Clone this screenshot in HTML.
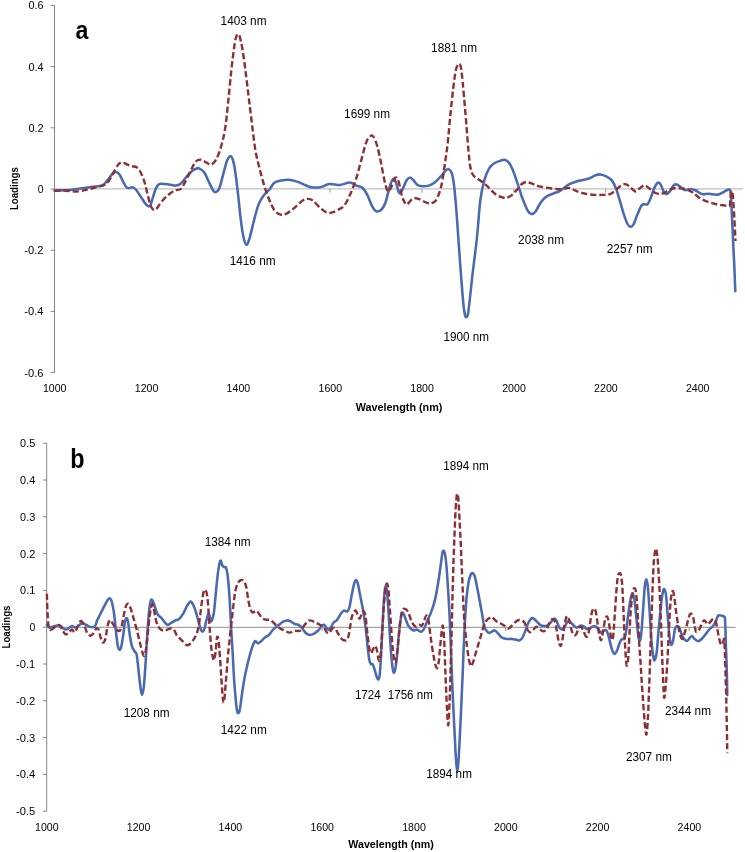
<!DOCTYPE html>
<html><head><meta charset="utf-8"><title>Loadings</title>
<style>html,body{margin:0;padding:0;background:#fff}svg{display:block}text{font-family:"Liberation Sans",sans-serif;fill:#000}.t{font-size:10.4px}.an{font-size:11.9px}.b{font-weight:bold;font-size:10.3px}.big{font-weight:bold;font-size:26.5px}</style></head><body>
<svg width="745" height="852" viewBox="0 0 745 852">
<rect width="745" height="852" fill="#fff"/>
<line x1="54.5" y1="188.9" x2="743.2" y2="188.9" stroke="#c0c0c0" stroke-width="1.3"/>
<text class="t" x="54.7" y="392.3" text-anchor="middle" textLength="23.6" lengthAdjust="spacingAndGlyphs">1000</text>
<line x1="146.4" y1="188.9" x2="146.4" y2="192.70000000000002" stroke="#9a9a9a" stroke-width="1"/>
<text class="t" x="146.6" y="392.3" text-anchor="middle" textLength="23.6" lengthAdjust="spacingAndGlyphs">1200</text>
<line x1="238.2" y1="188.9" x2="238.2" y2="192.70000000000002" stroke="#9a9a9a" stroke-width="1"/>
<text class="t" x="238.4" y="392.3" text-anchor="middle" textLength="23.6" lengthAdjust="spacingAndGlyphs">1400</text>
<line x1="330.1" y1="188.9" x2="330.1" y2="192.70000000000002" stroke="#9a9a9a" stroke-width="1"/>
<text class="t" x="330.3" y="392.3" text-anchor="middle" textLength="23.6" lengthAdjust="spacingAndGlyphs">1600</text>
<line x1="421.9" y1="188.9" x2="421.9" y2="192.70000000000002" stroke="#9a9a9a" stroke-width="1"/>
<text class="t" x="422.1" y="392.3" text-anchor="middle" textLength="23.6" lengthAdjust="spacingAndGlyphs">1800</text>
<line x1="513.8" y1="188.9" x2="513.8" y2="192.70000000000002" stroke="#9a9a9a" stroke-width="1"/>
<text class="t" x="514.0" y="392.3" text-anchor="middle" textLength="23.6" lengthAdjust="spacingAndGlyphs">2000</text>
<line x1="605.7" y1="188.9" x2="605.7" y2="192.70000000000002" stroke="#9a9a9a" stroke-width="1"/>
<text class="t" x="605.9" y="392.3" text-anchor="middle" textLength="23.6" lengthAdjust="spacingAndGlyphs">2200</text>
<line x1="697.5" y1="188.9" x2="697.5" y2="192.70000000000002" stroke="#9a9a9a" stroke-width="1"/>
<text class="t" x="697.7" y="392.3" text-anchor="middle" textLength="23.6" lengthAdjust="spacingAndGlyphs">2400</text>
<line x1="54.5" y1="5.4" x2="54.5" y2="372.6" stroke="#868686" stroke-width="1"/>
<line x1="50.7" y1="5.4" x2="54.5" y2="5.4" stroke="#868686" stroke-width="1"/>
<text class="t" x="43.5" y="9.3" text-anchor="end" textLength="15.1" lengthAdjust="spacingAndGlyphs">0.6</text>
<line x1="50.7" y1="66.6" x2="54.5" y2="66.6" stroke="#868686" stroke-width="1"/>
<text class="t" x="43.5" y="70.5" text-anchor="end" textLength="15.1" lengthAdjust="spacingAndGlyphs">0.4</text>
<line x1="50.7" y1="127.8" x2="54.5" y2="127.8" stroke="#868686" stroke-width="1"/>
<text class="t" x="43.5" y="131.7" text-anchor="end" textLength="15.1" lengthAdjust="spacingAndGlyphs">0.2</text>
<line x1="50.7" y1="189.0" x2="54.5" y2="189.0" stroke="#868686" stroke-width="1"/>
<text class="t" x="43.5" y="192.9" text-anchor="end">0</text>
<line x1="50.7" y1="250.2" x2="54.5" y2="250.2" stroke="#868686" stroke-width="1"/>
<text class="t" x="43.5" y="254.1" text-anchor="end" textLength="19.2" lengthAdjust="spacingAndGlyphs">-0.2</text>
<line x1="50.7" y1="311.4" x2="54.5" y2="311.4" stroke="#868686" stroke-width="1"/>
<text class="t" x="43.5" y="315.3" text-anchor="end" textLength="19.2" lengthAdjust="spacingAndGlyphs">-0.4</text>
<line x1="50.7" y1="372.6" x2="54.5" y2="372.6" stroke="#868686" stroke-width="1"/>
<text class="t" x="43.5" y="376.5" text-anchor="end" textLength="19.2" lengthAdjust="spacingAndGlyphs">-0.6</text>
<text class="b" x="355.8" y="410.6" textLength="86.6" lengthAdjust="spacingAndGlyphs">Wavelength (nm)</text>
<text class="b" transform="translate(17.8,188.6) rotate(-90)" text-anchor="middle" textLength="42.9" lengthAdjust="spacingAndGlyphs">Loadings</text>
<text class="big" style="font-size:26px" x="75.4" y="39.0" textLength="12.9" lengthAdjust="spacingAndGlyphs">a</text>
<path d="M54.4,190.5C57.0,190.4 65.8,190.2 70.1,189.9C74.4,189.6 76.5,189.0 80.2,188.5C83.9,188.0 88.6,187.3 92.3,186.8C96.0,186.3 99.8,186.5 102.3,185.4C104.8,184.3 105.7,182.3 107.4,180.4C109.1,178.5 111.0,175.4 112.4,174.0C113.8,172.6 114.8,171.8 116.0,171.9C117.2,172.0 118.2,172.7 119.5,174.4C120.8,176.2 122.3,180.2 123.5,182.4C124.7,184.6 125.5,186.5 126.5,187.4C127.5,188.3 128.4,188.0 129.5,188.0C130.6,188.0 131.8,187.0 133.0,187.4C134.2,187.8 135.0,188.5 136.6,190.5C138.2,192.5 140.9,197.1 142.6,199.5C144.3,201.9 145.4,203.9 146.6,205.0C147.8,206.1 148.8,206.8 149.7,206.2C150.5,205.6 150.9,203.9 151.7,201.5C152.5,199.1 153.7,194.2 154.7,191.5C155.7,188.8 156.7,186.7 157.7,185.4C158.7,184.1 158.8,184.0 160.7,183.8C162.5,183.6 166.3,184.1 168.8,184.4C171.3,184.7 173.8,185.8 175.8,185.6C177.8,185.4 179.1,184.9 180.9,183.4C182.8,181.9 184.9,178.6 186.9,176.4C188.9,174.2 191.4,171.6 192.9,170.3C194.4,169.0 195.0,169.1 196.0,168.8C197.0,168.5 197.8,167.7 199.1,168.3C200.4,168.9 202.4,170.0 204.1,172.3C205.8,174.7 207.6,179.4 209.1,182.4C210.6,185.4 212.1,188.9 213.2,190.5C214.3,192.1 214.8,192.4 215.8,192.1C216.8,191.8 218.0,191.4 219.2,188.5C220.4,185.6 221.9,179.1 223.2,174.4C224.5,169.7 225.9,163.3 227.2,160.3C228.4,157.3 229.7,156.0 230.7,156.2C231.7,156.4 232.4,157.9 233.3,161.3C234.2,164.7 235.1,170.5 235.9,176.4C236.7,182.3 237.5,189.4 238.3,196.5C239.1,203.6 239.8,212.0 240.7,218.7C241.5,225.4 242.4,232.5 243.4,236.8C244.4,241.2 245.4,244.5 246.4,244.8C247.4,245.1 248.2,242.5 249.4,238.8C250.6,235.1 251.9,228.4 253.4,222.7C254.9,217.0 256.8,209.1 258.5,204.6C260.2,200.1 261.7,198.4 263.5,195.8C265.3,193.2 267.7,191.5 269.5,189.3C271.3,187.2 272.6,184.3 274.2,182.9C275.8,181.5 276.8,181.4 279.2,180.9C281.6,180.4 285.5,179.5 288.7,179.7C291.9,179.9 295.6,181.2 298.2,182.0C300.8,182.8 301.9,183.7 304.0,184.6C306.1,185.5 308.3,186.7 310.8,187.2C313.3,187.7 316.7,187.6 318.9,187.4C321.1,187.2 322.2,186.6 323.9,186.0C325.6,185.4 327.0,184.2 328.9,184.0C330.8,183.8 333.1,184.4 335.0,184.6C336.9,184.8 337.6,185.3 340.1,185.0C342.6,184.7 347.4,182.4 350.1,182.5C352.8,182.6 354.2,184.8 356.2,185.6C358.2,186.4 360.4,186.1 362.2,187.6C364.0,189.1 365.5,191.4 367.2,194.6C368.9,197.8 370.8,203.9 372.3,206.7C373.8,209.5 374.8,210.8 376.3,211.3C377.8,211.8 379.8,211.1 381.3,209.7C382.8,208.3 384.0,206.4 385.4,202.7C386.8,199.0 388.3,191.3 389.4,187.6C390.5,183.9 391.2,182.0 392.0,180.5C392.8,179.0 393.3,178.2 394.0,178.5C394.7,178.8 395.2,180.3 396.0,182.5C396.8,184.7 397.8,189.8 398.5,191.6C399.2,193.3 399.4,193.3 400.1,193.0C400.8,192.7 401.4,191.7 402.5,189.6C403.6,187.5 405.2,182.5 406.5,180.5C407.8,178.5 408.9,177.5 410.1,177.5C411.3,177.5 412.4,179.2 413.6,180.5C414.9,181.8 416.1,184.1 417.6,185.0C419.1,185.9 420.8,186.1 422.6,186.2C424.5,186.3 426.7,186.2 428.7,185.6C430.7,185.0 432.7,184.0 434.7,182.5C436.7,181.0 438.8,178.5 440.7,176.5C442.6,174.5 444.5,171.7 445.8,170.5C447.1,169.3 447.6,168.7 448.6,169.1C449.6,169.5 450.8,170.2 451.7,172.8C452.6,175.5 453.3,179.5 454.0,185.0C454.7,190.5 455.3,198.0 456.0,206.0C456.7,214.0 457.3,223.2 458.0,233.0C458.7,242.8 459.5,254.9 460.2,264.5C460.9,274.1 461.6,283.0 462.2,290.3C462.8,297.6 463.4,304.2 463.9,308.5C464.4,312.8 464.9,314.7 465.3,316.1C465.7,317.5 465.9,317.2 466.3,316.9C466.7,316.6 467.3,317.6 467.9,314.5C468.5,311.4 469.2,304.8 469.9,298.4C470.6,292.0 471.5,283.2 472.3,276.2C473.1,269.1 473.9,263.5 474.8,256.1C475.7,248.7 476.6,241.3 477.5,232.0C478.4,222.7 479.2,209.0 480.3,200.4C481.4,191.8 482.8,185.7 484.3,180.3C485.8,174.9 487.6,171.0 489.3,168.2C491.0,165.3 492.5,164.4 494.4,163.2C496.2,161.9 498.7,161.3 500.4,160.7C502.1,160.1 503.0,159.5 504.4,159.7C505.8,159.9 507.1,160.5 508.5,162.1C509.9,163.7 511.0,165.7 512.5,169.2C514.0,172.7 515.8,178.4 517.5,183.3C519.2,188.2 520.8,193.9 522.5,198.4C524.2,202.9 526.1,207.9 527.6,210.5C529.1,213.1 530.3,213.9 531.6,214.1C532.9,214.3 534.1,213.4 535.6,211.5C537.1,209.6 538.9,204.9 540.7,202.4C542.6,199.9 544.5,197.9 546.7,196.4C548.9,194.9 551.4,194.4 553.8,193.4C556.1,192.4 558.3,191.8 560.8,190.3C563.3,188.8 566.0,185.9 568.9,184.3C571.8,182.8 574.9,181.9 578.1,181.0C581.3,180.1 585.2,179.7 588.1,178.8C591.0,177.9 593.2,176.1 595.2,175.4C597.2,174.7 598.4,174.2 600.2,174.4C602.0,174.6 604.3,175.4 606.2,176.4C608.1,177.4 610.2,178.4 611.8,180.4C613.4,182.4 614.7,185.2 616.0,188.5C617.3,191.8 618.5,196.3 619.8,200.5C621.1,204.7 622.3,209.7 623.6,213.6C624.9,217.5 626.3,221.5 627.4,223.7C628.5,225.9 629.4,226.5 630.4,226.7C631.4,226.9 632.2,226.7 633.4,224.7C634.6,222.7 636.0,217.8 637.4,214.6C638.8,211.4 640.3,207.3 641.5,205.6C642.7,203.9 643.5,204.4 644.5,204.2C645.5,204.0 646.5,205.1 647.5,204.2C648.5,203.2 649.3,201.3 650.5,198.5C651.7,195.7 653.4,190.0 654.6,187.4C655.8,184.8 656.6,183.3 657.6,182.8C658.6,182.3 659.6,183.0 660.6,184.4C661.6,185.8 662.6,189.9 663.6,191.5C664.6,193.1 665.6,194.1 666.6,194.1C667.6,194.1 668.5,192.9 669.7,191.5C670.9,190.1 672.5,186.6 673.7,185.4C674.9,184.2 675.7,184.2 676.7,184.4C677.7,184.6 678.4,185.5 679.7,186.4C681.1,187.3 682.9,189.7 684.8,190.1C686.6,190.5 689.0,189.0 690.8,189.1C692.6,189.2 693.9,189.7 695.8,190.5C697.6,191.3 699.7,193.4 701.9,194.0C704.1,194.6 706.3,193.7 708.9,193.8C711.5,193.9 714.7,195.0 717.2,194.7C719.8,194.3 722.2,192.5 724.2,191.7C726.2,190.8 728.1,189.3 729.2,189.6C730.3,189.9 730.3,189.6 730.7,193.5C731.1,197.4 731.4,205.2 731.8,212.8C732.2,220.4 732.6,230.4 733.0,239.2C733.4,248.0 733.9,256.9 734.3,265.6C734.7,274.3 735.1,286.9 735.3,291.2" fill="none" stroke="#4a69b3" stroke-width="2.55" stroke-linejoin="round" stroke-linecap="round"/>
<path d="M54.4,190.9C56.0,190.8 60.5,190.4 64.1,190.5C67.7,190.6 72.5,191.6 76.2,191.5C79.9,191.4 82.9,190.7 86.2,189.9C89.5,189.2 93.4,187.8 96.3,187.0C99.2,186.2 101.4,186.3 103.4,185.4C105.4,184.5 106.7,183.5 108.4,181.4C110.1,179.3 111.7,175.5 113.4,172.7C115.1,169.8 117.0,166.0 118.5,164.3C120.0,162.6 121.0,162.2 122.5,162.3C124.0,162.4 125.8,164.0 127.5,164.7C129.2,165.4 131.0,165.9 132.5,166.3C134.0,166.7 135.2,166.3 136.6,167.3C137.9,168.3 139.3,169.8 140.6,172.3C141.9,174.8 143.4,178.7 144.6,182.4C145.8,186.1 146.6,190.6 147.6,194.5C148.6,198.4 149.7,203.0 150.7,205.6C151.7,208.2 152.7,209.5 153.7,210.0C154.7,210.5 155.4,210.0 156.7,208.6C158.0,207.2 159.7,203.8 161.7,201.5C163.7,199.2 166.6,196.3 168.8,194.5C171.0,192.7 172.8,191.4 174.8,190.5C176.8,189.6 179.2,190.2 180.9,188.9C182.6,187.6 183.6,184.8 184.9,182.4C186.2,180.0 187.6,177.0 188.9,174.4C190.2,171.8 191.3,169.2 192.5,167.0C193.7,164.8 194.6,162.5 196.0,161.3C197.4,160.1 199.4,159.5 201.1,159.7C202.8,159.9 204.4,161.5 206.1,162.3C207.8,163.1 209.4,165.2 211.1,164.7C212.8,164.2 214.5,162.4 216.2,159.3C217.9,156.2 219.7,151.4 221.2,146.2C222.7,141.0 224.0,135.7 225.2,128.1C226.4,120.5 227.3,110.3 228.3,100.7C229.3,91.1 230.3,79.6 231.3,70.5C232.3,61.4 233.5,52.0 234.3,46.3C235.1,40.6 235.7,38.5 236.3,36.5C236.9,34.5 237.2,34.2 237.8,34.2C238.4,34.2 238.8,33.9 239.6,36.2C240.3,38.6 241.4,42.9 242.3,48.3C243.2,53.7 244.2,60.8 245.2,68.5C246.2,76.2 247.3,85.8 248.4,94.6C249.5,103.3 250.4,111.7 251.6,121.0C252.8,130.3 254.1,142.3 255.4,150.2C256.7,158.1 258.0,162.3 259.5,168.3C261.0,174.3 262.8,181.0 264.5,186.4C266.2,191.8 267.8,196.5 269.5,200.5C271.2,204.5 272.8,208.2 274.6,210.6C276.5,212.9 278.6,214.1 280.6,214.6C282.6,215.1 284.2,214.8 286.6,213.6C289.0,212.4 292.0,209.8 294.7,207.6C297.4,205.4 300.5,201.9 302.7,200.5C304.9,199.1 306.1,198.9 307.8,198.9C309.5,198.9 310.8,199.1 312.8,200.5C314.8,201.9 317.5,205.6 319.9,207.6C322.2,209.6 324.7,211.8 326.9,212.6C329.1,213.4 331.0,212.7 332.9,212.2C334.8,211.7 336.2,210.8 338.1,209.7C340.0,208.6 342.1,208.2 344.1,205.7C346.1,203.2 348.1,199.1 350.1,194.6C352.1,190.1 354.4,184.2 356.2,178.5C358.0,172.8 359.5,166.4 361.2,160.4C362.9,154.4 364.7,146.3 366.2,142.3C367.7,138.3 369.1,137.1 370.3,136.2C371.5,135.2 372.1,134.9 373.3,136.6C374.5,138.3 376.0,141.7 377.3,146.3C378.6,150.9 380.0,158.0 381.3,164.4C382.6,170.8 384.2,180.1 385.4,184.6C386.6,189.1 387.4,191.3 388.4,191.6C389.4,191.9 390.4,188.6 391.4,186.6C392.4,184.6 393.6,181.0 394.4,179.5C395.2,178.0 395.6,177.0 396.4,177.5C397.1,178.0 397.9,179.3 398.9,182.5C399.8,185.7 401.0,193.1 402.1,196.6C403.2,200.1 404.6,202.4 405.5,203.7C406.4,205.0 406.5,205.0 407.5,204.3C408.5,203.6 410.1,200.7 411.5,199.7C412.9,198.7 414.1,198.2 415.6,198.2C417.1,198.2 418.8,198.9 420.6,199.7C422.4,200.4 424.9,202.1 426.6,202.7C428.3,203.3 429.2,203.6 430.7,203.3C432.2,203.0 434.2,202.6 435.7,200.7C437.2,198.8 438.6,195.0 439.7,191.6C440.8,188.2 441.6,185.2 442.5,180.0C443.4,174.8 444.5,166.4 445.4,160.4C446.2,154.4 446.8,151.3 447.6,144.0C448.4,136.7 449.3,125.8 450.2,116.6C451.1,107.3 452.3,96.2 453.2,88.5C454.1,80.8 455.0,74.3 455.8,70.3C456.6,66.3 457.3,65.8 457.9,64.7C458.5,63.6 458.8,63.3 459.3,63.7C459.8,64.1 460.3,64.2 460.9,67.3C461.5,70.4 462.1,76.2 462.7,82.4C463.3,88.6 464.0,96.9 464.7,104.6C465.4,112.3 466.1,121.0 466.7,128.7C467.3,136.4 467.9,144.7 468.5,150.9C469.1,157.2 469.4,162.1 470.2,166.2C471.0,170.2 471.8,173.0 473.2,175.2C474.6,177.4 476.4,178.0 478.3,179.3C480.2,180.7 482.3,181.6 484.3,183.3C486.3,185.0 488.3,187.4 490.3,189.3C492.3,191.2 494.4,193.5 496.4,194.8C498.4,196.2 500.7,196.9 502.4,197.4C504.1,197.9 504.9,198.1 506.4,197.8C507.9,197.5 509.8,196.7 511.5,195.4C513.2,194.2 514.8,192.2 516.5,190.3C518.2,188.5 519.8,185.7 521.5,184.3C523.2,182.9 524.8,182.0 526.6,181.9C528.5,181.8 530.2,183.1 532.6,183.9C535.0,184.7 537.7,186.0 540.7,186.7C543.7,187.4 547.4,187.9 550.7,188.3C554.1,188.7 557.8,189.4 560.8,189.3C563.8,189.2 566.4,187.6 568.9,187.9C571.4,188.2 573.5,190.0 576.0,190.9C578.5,191.8 581.1,192.8 584.1,193.5C587.1,194.2 590.9,194.7 594.2,194.9C597.6,195.1 601.4,195.1 604.2,194.9C607.1,194.7 609.1,194.6 611.3,193.5C613.5,192.4 615.5,189.9 617.3,188.5C619.1,187.1 620.8,185.5 622.3,184.8C623.8,184.1 625.0,184.0 626.4,184.4C627.8,184.8 628.9,186.2 630.4,187.4C631.9,188.6 633.9,191.3 635.4,191.5C636.9,191.7 638.0,189.5 639.5,188.5C641.0,187.5 642.8,185.4 644.5,185.4C646.2,185.4 647.8,187.3 649.5,188.5C651.2,189.7 652.8,191.6 654.6,192.5C656.5,193.4 658.6,194.3 660.6,194.1C662.6,193.9 664.6,192.4 666.6,191.5C668.6,190.6 670.7,189.1 672.7,188.5C674.7,187.9 676.4,187.8 678.7,188.0C681.1,188.2 684.4,188.8 686.8,189.5C689.1,190.2 690.8,191.2 692.8,192.5C694.8,193.8 696.5,196.0 698.9,197.5C701.2,199.0 704.1,200.4 706.9,201.5C709.6,202.6 712.5,203.3 715.4,204.0C718.3,204.7 721.9,205.1 724.2,205.4C726.6,205.8 728.5,207.1 729.5,206.1C730.5,205.1 730.1,202.0 730.4,199.6C730.7,197.2 731.1,192.6 731.5,191.5C731.9,190.4 732.1,190.6 732.5,193.0C732.9,195.4 733.2,200.2 733.6,205.8C734.0,211.5 734.5,221.0 734.8,226.9C735.1,232.8 735.4,238.7 735.5,241.0" fill="none" stroke="#8c2e33" stroke-width="2.4" stroke-dasharray="6.2 2.9" stroke-linejoin="round"/>
<text class="an" x="220.6" y="25.0" textLength="45.9" lengthAdjust="spacingAndGlyphs">1403 nm</text>
<text class="an" x="229.7" y="264.6" textLength="45.9" lengthAdjust="spacingAndGlyphs">1416 nm</text>
<text class="an" x="344.1" y="118.4" textLength="45.9" lengthAdjust="spacingAndGlyphs">1699 nm</text>
<text class="an" x="431.1" y="51.9" textLength="45.9" lengthAdjust="spacingAndGlyphs">1881 nm</text>
<text class="an" x="443.6" y="340.9" textLength="45.5" lengthAdjust="spacingAndGlyphs">1900 nm</text>
<text class="an" x="518.1" y="244.0" textLength="45.9" lengthAdjust="spacingAndGlyphs">2038 nm</text>
<text class="an" x="606.8" y="253.2" textLength="45.9" lengthAdjust="spacingAndGlyphs">2257 nm</text>
<line x1="46.7" y1="627.3" x2="735.6" y2="627.3" stroke="#787878" stroke-width="0.85"/>
<text class="t" x="46.8" y="830.9" text-anchor="middle" textLength="23.6" lengthAdjust="spacingAndGlyphs">1000</text>
<line x1="138.4" y1="627.3" x2="138.4" y2="631.0999999999999" stroke="#9a9a9a" stroke-width="1"/>
<text class="t" x="138.6" y="830.9" text-anchor="middle" textLength="23.6" lengthAdjust="spacingAndGlyphs">1200</text>
<line x1="230.2" y1="627.3" x2="230.2" y2="631.0999999999999" stroke="#9a9a9a" stroke-width="1"/>
<text class="t" x="230.4" y="830.9" text-anchor="middle" textLength="23.6" lengthAdjust="spacingAndGlyphs">1400</text>
<line x1="322.0" y1="627.3" x2="322.0" y2="631.0999999999999" stroke="#9a9a9a" stroke-width="1"/>
<text class="t" x="322.2" y="830.9" text-anchor="middle" textLength="23.6" lengthAdjust="spacingAndGlyphs">1600</text>
<line x1="413.8" y1="627.3" x2="413.8" y2="631.0999999999999" stroke="#9a9a9a" stroke-width="1"/>
<text class="t" x="414.0" y="830.9" text-anchor="middle" textLength="23.6" lengthAdjust="spacingAndGlyphs">1800</text>
<line x1="505.6" y1="627.3" x2="505.6" y2="631.0999999999999" stroke="#9a9a9a" stroke-width="1"/>
<text class="t" x="505.8" y="830.9" text-anchor="middle" textLength="23.6" lengthAdjust="spacingAndGlyphs">2000</text>
<line x1="597.4" y1="627.3" x2="597.4" y2="631.0999999999999" stroke="#9a9a9a" stroke-width="1"/>
<text class="t" x="597.6" y="830.9" text-anchor="middle" textLength="23.6" lengthAdjust="spacingAndGlyphs">2200</text>
<line x1="689.2" y1="627.3" x2="689.2" y2="631.0999999999999" stroke="#9a9a9a" stroke-width="1"/>
<text class="t" x="689.4" y="830.9" text-anchor="middle" textLength="23.6" lengthAdjust="spacingAndGlyphs">2400</text>
<line x1="46.7" y1="443.2" x2="46.7" y2="811.2" stroke="#868686" stroke-width="1"/>
<line x1="42.900000000000006" y1="443.2" x2="46.7" y2="443.2" stroke="#868686" stroke-width="1"/>
<text class="t" x="35.2" y="447.1" text-anchor="end" textLength="15.1" lengthAdjust="spacingAndGlyphs">0.5</text>
<line x1="42.900000000000006" y1="480.0" x2="46.7" y2="480.0" stroke="#868686" stroke-width="1"/>
<text class="t" x="35.2" y="483.9" text-anchor="end" textLength="15.1" lengthAdjust="spacingAndGlyphs">0.4</text>
<line x1="42.900000000000006" y1="516.8" x2="46.7" y2="516.8" stroke="#868686" stroke-width="1"/>
<text class="t" x="35.2" y="520.7" text-anchor="end" textLength="15.1" lengthAdjust="spacingAndGlyphs">0.3</text>
<line x1="42.900000000000006" y1="553.6" x2="46.7" y2="553.6" stroke="#868686" stroke-width="1"/>
<text class="t" x="35.2" y="557.5" text-anchor="end" textLength="15.1" lengthAdjust="spacingAndGlyphs">0.2</text>
<line x1="42.900000000000006" y1="590.4" x2="46.7" y2="590.4" stroke="#868686" stroke-width="1"/>
<text class="t" x="35.2" y="594.3" text-anchor="end" textLength="15.1" lengthAdjust="spacingAndGlyphs">0.1</text>
<line x1="42.900000000000006" y1="627.2" x2="46.7" y2="627.2" stroke="#868686" stroke-width="1"/>
<text class="t" x="35.2" y="631.1" text-anchor="end">0</text>
<line x1="42.900000000000006" y1="664.0" x2="46.7" y2="664.0" stroke="#868686" stroke-width="1"/>
<text class="t" x="35.2" y="667.9" text-anchor="end" textLength="19.2" lengthAdjust="spacingAndGlyphs">-0.1</text>
<line x1="42.900000000000006" y1="700.8" x2="46.7" y2="700.8" stroke="#868686" stroke-width="1"/>
<text class="t" x="35.2" y="704.7" text-anchor="end" textLength="19.2" lengthAdjust="spacingAndGlyphs">-0.2</text>
<line x1="42.900000000000006" y1="737.6" x2="46.7" y2="737.6" stroke="#868686" stroke-width="1"/>
<text class="t" x="35.2" y="741.5" text-anchor="end" textLength="19.2" lengthAdjust="spacingAndGlyphs">-0.3</text>
<line x1="42.900000000000006" y1="774.4" x2="46.7" y2="774.4" stroke="#868686" stroke-width="1"/>
<text class="t" x="35.2" y="778.3" text-anchor="end" textLength="19.2" lengthAdjust="spacingAndGlyphs">-0.4</text>
<line x1="42.900000000000006" y1="811.2" x2="46.7" y2="811.2" stroke="#868686" stroke-width="1"/>
<text class="t" x="35.2" y="815.1" text-anchor="end" textLength="19.2" lengthAdjust="spacingAndGlyphs">-0.5</text>
<text class="b" x="348.3" y="848.3" textLength="85.6" lengthAdjust="spacingAndGlyphs">Wavelength (nm)</text>
<text class="b" transform="translate(9.9,627.0) rotate(-90)" text-anchor="middle" textLength="42.9" lengthAdjust="spacingAndGlyphs">Loadings</text>
<text class="big" style="font-size:27.5px" x="70.2" y="468.3" textLength="14.3" lengthAdjust="spacingAndGlyphs">b</text>
<path d="M46.9,624.8C47.3,625.3 48.0,627.4 49.4,627.6C50.8,627.8 53.3,626.5 55.0,626.1C56.7,625.7 58.3,625.0 59.7,625.4C61.1,625.8 62.4,627.8 63.5,628.5C64.6,629.2 65.2,629.7 66.3,629.5C67.4,629.3 69.0,627.8 70.0,627.2C71.0,626.6 71.3,626.0 72.3,626.1C73.2,626.2 74.5,627.8 75.7,627.6C76.9,627.4 78.3,625.5 79.4,624.8C80.5,624.1 81.2,623.5 82.3,623.5C83.4,623.5 84.8,624.3 86.0,624.8C87.2,625.3 88.4,626.4 89.8,626.7C91.2,627.0 93.2,627.8 94.5,626.7C95.8,625.6 96.4,622.1 97.3,620.1C98.2,618.1 98.8,617.0 100.1,614.5C101.3,612.0 103.5,607.6 104.8,605.1C106.1,602.6 107.2,600.5 108.0,599.4C108.8,598.3 109.3,598.2 109.9,598.5C110.5,598.8 111.0,598.6 111.7,601.3C112.4,604.0 113.5,609.2 114.2,614.5C114.9,619.8 115.5,627.9 116.1,633.2C116.7,638.5 117.4,643.6 117.9,646.4C118.4,649.2 118.7,649.6 119.2,649.8C119.7,649.9 120.4,649.8 121.1,647.3C121.8,644.8 122.6,639.3 123.2,635.1C123.8,630.9 124.4,624.8 124.9,622.0C125.4,619.2 125.9,618.4 126.4,618.2C126.9,618.0 127.3,618.2 127.9,621.0C128.5,623.8 129.1,630.9 129.8,635.1C130.5,639.3 131.2,643.6 132.0,646.4C132.8,649.1 134.0,650.2 134.8,651.6C135.6,653.0 136.1,651.6 136.7,654.8C137.3,658.0 138.0,665.3 138.6,670.8C139.2,676.3 139.9,683.7 140.5,687.7C141.1,691.7 141.5,694.8 142.0,694.8C142.5,694.8 143.2,692.0 143.7,687.7C144.2,683.4 144.6,677.0 145.2,668.9C145.8,660.8 146.4,648.3 147.0,638.9C147.6,629.5 148.3,618.9 148.9,612.6C149.5,606.3 150.1,603.4 150.6,601.3C151.1,599.2 151.5,599.4 152.1,600.0C152.7,600.6 153.4,602.6 154.3,605.0C155.2,607.4 156.3,612.1 157.5,614.2C158.7,616.4 160.1,616.5 161.3,617.9C162.6,619.3 163.9,621.4 165.0,622.6C166.1,623.8 166.7,624.9 167.8,624.9C168.9,624.9 170.3,623.4 171.6,622.6C172.9,621.9 174.2,621.0 175.4,620.4C176.7,619.8 177.8,619.9 179.1,618.9C180.3,617.9 181.7,616.2 182.9,614.2C184.2,612.2 185.5,608.7 186.6,606.7C187.7,604.7 188.7,603.1 189.4,602.3C190.1,601.4 190.3,601.2 190.9,601.6C191.5,602.0 192.3,603.0 193.2,604.8C194.0,606.6 195.1,609.3 196.0,612.3C196.9,615.3 198.0,619.8 198.8,622.6C199.6,625.4 200.1,627.7 200.7,629.2C201.3,630.7 202.0,631.8 202.6,631.6C203.2,631.5 203.9,630.1 204.5,628.3C205.1,626.5 205.7,623.1 206.3,620.8C206.9,618.4 207.7,615.2 208.2,614.2C208.7,613.2 208.9,613.8 209.3,614.7C209.7,615.6 210.1,618.8 210.5,619.8C210.9,620.8 211.0,621.9 211.6,620.8C212.2,619.7 213.1,617.6 213.8,613.2C214.5,608.8 215.1,600.8 215.7,594.5C216.3,588.2 217.0,580.9 217.6,575.7C218.2,570.5 219.0,566.0 219.5,563.5C220.0,561.0 220.3,560.4 220.8,560.7C221.3,561.0 221.7,564.3 222.3,565.4C222.9,566.5 223.6,566.8 224.2,567.2C224.8,567.6 225.5,566.1 226.1,567.8C226.7,569.5 227.3,571.9 227.9,577.6C228.5,583.3 229.3,593.7 229.8,602.0C230.3,610.3 230.7,619.3 231.1,627.3C231.5,635.3 232.0,641.0 232.5,650.0C233.0,659.0 233.6,672.2 234.2,681.0C234.8,689.8 235.5,697.4 236.0,702.6C236.5,707.8 236.9,710.3 237.3,712.0C237.7,713.7 238.1,713.3 238.5,713.0C238.9,712.7 239.3,712.8 239.8,710.1C240.3,707.4 240.9,702.0 241.6,697.0C242.3,692.0 243.3,684.9 244.2,680.0C245.0,675.1 245.8,671.6 246.7,667.7C247.6,663.8 248.6,659.9 249.5,656.4C250.4,652.9 251.4,649.5 252.3,647.0C253.2,644.5 254.1,642.2 254.8,641.4C255.5,640.6 256.2,642.0 256.7,642.3C257.2,642.6 257.3,643.4 258.0,643.3C258.7,643.1 259.7,642.3 260.8,641.4C261.9,640.5 263.2,638.8 264.6,637.7C266.0,636.6 267.4,636.5 268.9,635.0C270.4,633.5 272.2,630.5 273.8,628.9C275.4,627.2 276.9,626.3 278.5,625.1C280.1,623.9 281.7,622.5 283.1,621.7C284.5,620.9 285.6,620.5 286.9,620.4C288.2,620.3 289.4,620.8 290.7,621.4C291.9,622.0 293.1,623.2 294.4,623.8C295.6,624.3 296.9,624.0 298.2,624.7C299.4,625.4 300.6,626.5 301.9,627.9C303.1,629.3 304.4,631.8 305.7,633.0C306.9,634.2 308.0,634.8 309.4,634.9C310.8,635.0 312.7,634.3 314.1,633.6C315.5,632.9 316.6,632.0 317.9,630.8C319.1,629.5 320.6,627.1 321.6,626.1C322.6,625.1 323.1,624.4 323.9,624.7C324.7,625.0 325.5,627.0 326.3,627.9C327.1,628.8 327.8,629.9 328.6,629.8C329.4,629.6 330.1,628.2 331.0,627.0C331.9,625.8 332.9,623.4 333.8,622.3C334.8,621.2 335.9,621.2 336.7,620.4C337.5,619.6 337.7,618.9 338.5,617.6C339.3,616.4 340.4,614.1 341.4,612.9C342.3,611.7 343.3,610.7 344.2,610.5C345.1,610.3 346.2,612.0 347.0,611.6C347.8,611.2 348.4,611.0 349.2,608.2C350.0,605.5 350.9,599.2 351.7,595.1C352.5,591.0 353.4,586.3 354.1,583.8C354.8,581.3 355.4,580.0 356.0,580.0C356.6,580.0 357.2,581.3 357.9,583.8C358.6,586.3 359.2,590.7 360.1,595.1C361.0,599.5 362.1,604.5 363.0,610.1C363.9,615.7 365.0,622.6 365.8,628.9C366.6,635.2 367.1,642.4 367.7,647.7C368.3,653.0 368.9,658.1 369.5,660.8C370.1,663.5 370.4,663.4 371.0,664.0C371.6,664.6 372.3,663.6 372.9,664.6C373.5,665.6 374.2,668.2 374.8,670.2C375.4,672.2 376.1,675.3 376.7,676.8C377.3,678.3 378.0,679.9 378.5,679.4C379.0,678.9 379.4,678.1 379.8,674.0C380.2,669.9 380.7,662.7 381.1,655.0C381.5,647.3 382.0,636.7 382.4,628.0C382.8,619.3 383.3,609.3 383.7,603.0C384.1,596.7 384.5,592.8 384.8,590.0C385.1,587.2 385.3,586.2 385.6,586.3C385.9,586.4 386.4,586.9 386.8,590.5C387.2,594.1 387.8,600.8 388.3,608.0C388.8,615.2 389.3,626.2 389.8,634.0C390.3,641.8 390.7,649.3 391.2,655.0C391.7,660.7 392.2,665.0 392.6,668.0C393.0,671.0 393.4,672.6 393.8,672.7C394.2,672.9 394.7,672.0 395.3,668.9C395.9,665.8 396.6,659.8 397.2,653.9C397.8,648.0 398.4,639.2 399.0,633.2C399.6,627.2 400.3,621.6 400.9,618.2C401.5,614.8 402.1,612.8 402.8,612.6C403.5,612.5 404.1,615.3 405.0,617.3C405.9,619.3 406.8,622.8 407.9,624.8C409.0,626.8 410.5,628.6 411.6,629.5C412.7,630.4 413.5,630.4 414.4,630.4C415.2,630.4 415.9,629.4 416.7,629.5C417.5,629.6 418.3,630.6 419.1,631.0C419.9,631.4 420.8,632.1 421.6,631.7C422.5,631.3 423.2,630.4 424.2,628.5C425.2,626.6 426.4,622.9 427.6,620.1C428.8,617.3 430.1,615.1 431.3,611.6C432.6,608.1 434.0,603.9 435.1,599.4C436.2,594.9 437.0,589.7 437.9,584.4C438.8,579.1 439.7,572.6 440.4,567.5C441.1,562.4 441.8,556.4 442.3,553.6C442.8,550.8 443.1,550.6 443.6,550.8C444.1,551.0 444.6,551.8 445.1,554.6C445.6,557.4 446.1,561.8 446.6,567.7C447.1,573.6 447.6,582.6 448.1,590.0C448.6,597.4 449.0,603.7 449.4,612.0C449.8,620.3 450.2,630.0 450.6,640.0C451.0,650.0 451.4,661.2 451.8,672.0C452.2,682.8 452.7,694.8 453.2,705.0C453.7,715.2 454.2,724.2 454.6,733.0C455.1,741.8 455.4,751.5 455.9,758.0C456.3,764.5 456.8,772.0 457.3,772.0C457.8,772.0 458.2,764.5 458.7,758.0C459.1,751.5 459.6,741.8 460.0,733.0C460.4,724.2 460.9,714.2 461.3,705.0C461.7,695.8 462.1,687.2 462.5,678.0C462.9,668.8 463.2,659.3 463.6,650.0C464.0,640.7 464.4,630.7 464.9,622.0C465.4,613.3 466.0,604.4 466.6,597.6C467.2,590.9 468.0,585.4 468.7,581.5C469.4,577.6 470.2,575.9 470.8,574.5C471.4,573.1 471.8,572.7 472.5,573.0C473.2,573.3 474.0,574.0 474.8,576.5C475.6,579.0 476.4,583.8 477.3,588.2C478.2,592.6 479.3,598.6 480.1,603.0C480.9,607.4 481.5,610.7 482.2,614.5C482.9,618.3 483.4,623.0 484.1,625.7C484.8,628.5 485.7,629.8 486.6,631.0C487.5,632.2 488.5,632.8 489.4,632.9C490.3,633.0 491.3,631.8 492.2,631.4C493.1,631.0 493.7,630.1 494.6,630.4C495.5,630.7 496.6,632.0 497.8,633.2C499.0,634.4 500.2,636.5 501.6,637.4C503.0,638.3 504.6,638.6 506.3,638.9C508.0,639.1 510.2,638.8 511.9,638.9C513.6,639.0 515.4,639.5 516.6,639.8C517.9,640.0 518.5,640.7 519.4,640.4C520.3,640.1 521.3,639.4 522.3,637.9C523.2,636.4 524.2,633.8 525.1,631.4C526.0,629.0 527.0,625.8 527.9,623.8C528.8,621.8 529.8,620.1 530.7,619.2C531.6,618.3 532.2,617.9 533.1,618.2C534.0,618.5 535.1,619.9 536.3,621.0C537.5,622.1 538.9,623.9 540.1,624.8C541.4,625.6 542.5,626.0 543.8,626.1C545.0,626.2 546.4,626.1 547.6,625.4C548.8,624.7 549.9,623.1 551.0,622.0C552.1,620.9 553.3,618.8 554.2,618.6C555.1,618.4 555.8,619.6 556.6,621.0C557.4,622.4 558.0,625.3 558.9,626.7C559.8,628.1 560.8,629.5 561.7,629.5C562.6,629.5 563.6,628.0 564.5,626.7C565.4,625.5 566.4,622.9 567.3,622.0C568.2,621.1 568.8,621.1 569.8,621.6C570.8,622.1 571.9,623.8 573.0,624.8C574.1,625.8 575.5,627.5 576.7,627.6C578.0,627.8 579.4,626.0 580.5,625.7C581.6,625.5 582.2,625.5 583.3,626.1C584.4,626.7 585.9,628.7 587.0,629.1C588.1,629.5 588.9,628.9 589.9,628.5C590.9,628.1 591.8,626.8 592.8,626.5C593.8,626.2 594.6,626.0 595.6,626.5C596.6,627.0 597.5,628.4 598.5,629.5C599.5,630.6 600.4,632.7 601.3,632.9C602.2,633.1 603.2,630.9 604.1,630.5C605.0,630.1 605.7,629.4 606.5,630.5C607.3,631.6 607.9,634.0 608.8,637.0C609.6,640.0 610.7,645.5 611.6,648.3C612.5,651.1 613.5,653.6 614.4,653.9C615.3,654.2 616.3,652.1 617.2,650.2C618.1,648.3 618.9,644.6 619.7,642.7C620.5,640.8 621.1,639.5 621.9,638.9C622.6,638.3 623.5,640.1 624.2,638.9C624.9,637.6 625.4,635.8 626.1,631.4C626.8,627.0 627.7,618.2 628.5,612.6C629.3,607.0 630.2,600.7 630.9,597.6C631.6,594.5 632.2,593.2 632.8,593.8C633.4,594.4 634.1,597.0 634.7,601.4C635.3,605.8 636.0,614.2 636.6,620.1C637.2,626.0 638.0,633.5 638.5,637.0C639.0,640.5 639.3,641.4 639.8,640.8C640.3,640.2 640.8,638.3 641.3,633.3C641.8,628.3 642.4,618.6 643.0,610.8C643.6,603.0 644.2,591.6 644.8,586.3C645.3,581.0 645.8,579.2 646.3,579.2C646.8,579.2 647.2,580.7 647.8,586.3C648.4,591.9 649.1,603.2 649.7,612.6C650.3,622.0 651.0,635.2 651.6,642.7C652.2,650.2 653.0,654.8 653.5,657.7C654.0,660.6 654.3,660.9 654.8,660.0C655.3,659.1 656.1,656.9 656.7,652.1C657.3,647.3 657.8,639.2 658.5,631.4C659.2,623.6 660.3,611.7 661.0,605.1C661.7,598.5 662.3,594.6 662.9,592.0C663.5,589.4 663.9,588.6 664.4,589.2C664.9,589.8 665.5,590.9 666.1,595.7C666.7,600.6 667.3,611.1 667.9,618.3C668.5,625.5 669.2,634.5 669.8,638.9C670.4,643.3 670.8,644.6 671.3,644.9C671.8,645.2 672.4,643.4 673.0,640.8C673.6,638.2 674.3,632.0 674.9,629.5C675.5,627.0 676.1,626.1 676.8,625.8C677.5,625.5 678.3,626.1 679.2,627.7C680.1,629.3 681.1,633.2 682.0,635.2C682.9,637.2 683.9,639.0 684.8,639.9C685.7,640.8 686.5,641.0 687.3,640.7C688.1,640.4 688.9,638.7 689.7,637.9C690.5,637.1 691.2,635.9 692.0,636.0C692.8,636.1 693.4,637.9 694.4,638.8C695.4,639.7 696.9,641.2 698.1,641.2C699.4,641.2 700.6,640.0 701.9,638.8C703.2,637.6 704.5,635.7 705.7,634.1C707.0,632.5 708.1,630.8 709.4,629.4C710.6,628.0 712.2,626.9 713.2,625.7C714.2,624.5 714.9,623.6 715.5,622.4C716.1,621.1 716.4,619.4 716.9,618.2C717.4,617.1 717.8,616.0 718.3,615.5C718.8,615.0 719.1,615.2 719.7,615.2C720.3,615.2 721.4,615.6 722.1,615.8C722.8,616.0 723.5,616.1 724.0,616.5C724.5,616.9 724.7,616.4 724.9,618.2C725.1,620.1 725.2,623.7 725.4,627.6C725.5,631.5 725.6,636.9 725.8,641.6C725.9,646.3 726.1,650.6 726.3,655.7C726.5,660.8 726.6,665.5 726.8,672.0C727.0,678.5 727.2,691.2 727.3,695.0" fill="none" stroke="#4a69b3" stroke-width="2.55" stroke-linejoin="round" stroke-linecap="round"/>
<path d="M46.9,593.8C47.0,596.9 47.2,607.3 47.5,612.6C47.8,617.9 48.0,622.8 48.5,625.7C49.0,628.6 49.5,629.4 50.3,629.9C51.1,630.4 52.0,629.2 53.1,628.5C54.2,627.8 55.8,625.9 56.9,625.4C58.0,624.9 58.8,624.6 59.7,625.4C60.6,626.2 61.5,628.9 62.5,630.4C63.5,631.9 64.5,633.7 65.4,634.2C66.4,634.7 67.1,634.0 68.2,633.2C69.3,632.4 70.8,629.6 71.9,629.5C73.0,629.4 73.8,632.8 74.7,632.3C75.7,631.8 76.6,628.6 77.6,626.7C78.6,624.8 79.8,621.3 80.9,621.0C82.0,620.7 83.1,622.9 84.1,624.8C85.1,626.7 85.9,630.5 86.9,632.3C87.9,634.1 89.2,635.6 90.3,635.7C91.4,635.9 92.5,634.4 93.5,633.2C94.5,632.0 95.5,629.1 96.3,628.5C97.1,627.9 97.9,628.1 98.6,629.5C99.3,630.9 99.8,634.8 100.5,637.0C101.2,639.2 102.1,642.3 102.9,642.6C103.7,642.9 104.6,641.7 105.4,638.9C106.2,636.1 106.8,628.8 107.6,625.7C108.3,622.6 109.1,620.6 109.9,620.1C110.7,619.6 111.4,621.6 112.3,622.9C113.2,624.1 114.1,626.2 115.1,627.6C116.1,629.0 117.5,630.9 118.5,631.0C119.5,631.1 120.2,631.0 121.1,628.5C121.9,626.0 122.8,620.0 123.6,616.3C124.4,612.5 125.3,608.1 126.0,606.0C126.7,603.9 127.2,603.6 127.9,603.8C128.6,603.9 129.2,604.8 130.1,606.9C130.9,609.0 132.0,612.8 133.0,616.3C134.0,619.8 135.1,623.5 136.2,627.6C137.3,631.7 138.5,636.7 139.5,640.8C140.5,644.9 141.5,649.5 142.3,652.0C143.1,654.5 143.6,656.4 144.2,655.8C144.8,655.2 145.5,652.4 146.1,648.3C146.7,644.2 147.4,637.0 148.0,631.4C148.6,625.8 149.3,618.6 149.9,614.5C150.5,610.4 151.0,608.2 151.4,606.5C151.8,604.8 152.2,603.7 152.6,604.3C153.0,604.9 153.3,607.0 154.0,610.0C154.7,613.0 155.5,619.4 156.6,622.6C157.7,625.8 158.9,627.9 160.3,629.2C161.7,630.5 163.4,630.6 165.0,630.5C166.6,630.4 168.3,628.8 169.7,628.6C171.1,628.4 172.2,628.0 173.5,629.2C174.8,630.4 175.6,633.8 177.2,635.8C178.8,637.8 181.2,639.8 182.9,641.4C184.6,643.0 186.0,645.2 187.6,645.2C189.2,645.2 190.8,643.3 192.3,641.4C193.8,639.5 195.4,637.0 196.6,633.9C197.8,630.8 198.4,627.6 199.2,622.6C200.0,617.6 200.9,608.8 201.6,603.8C202.3,598.8 202.9,594.9 203.5,592.6C204.1,590.3 204.8,589.2 205.4,589.8C206.0,590.4 206.7,592.1 207.3,596.3C207.9,600.5 208.3,608.8 208.8,615.1C209.3,621.4 209.6,628.0 210.1,633.9C210.6,639.8 211.1,646.7 211.6,650.8C212.1,654.9 212.7,656.8 213.1,658.3C213.5,659.8 213.8,661.0 214.2,659.8C214.6,658.5 215.3,654.2 215.7,650.8C216.1,647.4 216.4,641.9 216.7,639.5C217.0,637.1 217.3,636.4 217.6,636.7C217.9,637.0 218.3,638.1 218.7,641.4C219.1,644.7 219.4,650.1 219.9,656.4C220.4,662.7 220.9,672.2 221.4,679.0C221.9,685.8 222.3,693.1 222.7,697.0C223.0,700.9 223.2,702.6 223.5,702.6C223.8,702.6 224.2,700.9 224.6,697.0C225.0,693.1 225.5,685.8 226.1,679.0C226.7,672.2 227.3,663.3 227.9,656.4C228.5,649.5 229.2,643.6 229.8,637.7C230.4,631.8 231.1,626.4 231.7,620.8C232.3,615.1 233.0,608.8 233.6,603.8C234.2,598.8 234.7,594.1 235.4,590.7C236.1,587.3 237.0,585.0 237.9,583.2C238.8,581.4 240.1,580.3 241.1,580.0C242.1,579.7 243.1,580.1 243.9,581.3C244.8,582.4 245.5,584.1 246.2,586.9C246.9,589.7 247.4,594.8 248.0,598.2C248.6,601.7 249.2,605.2 249.9,607.6C250.6,610.0 251.4,611.7 252.3,612.3C253.2,612.9 254.4,611.6 255.2,611.4C256.0,611.2 256.2,610.4 257.0,611.0C257.8,611.6 258.9,613.9 259.9,615.1C260.8,616.4 261.6,617.7 262.7,618.5C263.8,619.3 265.2,619.6 266.4,619.8C267.6,620.0 268.8,619.3 270.0,619.8C271.2,620.3 272.2,621.6 273.8,623.0C275.4,624.4 277.5,626.6 279.4,627.9C281.3,629.2 283.3,630.0 285.0,630.8C286.7,631.6 288.1,632.6 289.7,632.6C291.3,632.6 292.7,631.1 294.4,630.8C296.1,630.5 298.4,631.6 300.0,630.8C301.6,630.0 302.5,627.7 303.8,626.1C305.1,624.5 306.5,622.4 307.6,621.4C308.7,620.4 309.1,620.2 310.4,620.4C311.6,620.5 313.5,621.6 315.1,622.3C316.7,623.0 318.4,623.9 319.8,624.7C321.2,625.5 322.4,625.8 323.5,627.0C324.6,628.2 325.4,630.7 326.3,631.7C327.2,632.7 328.2,633.5 329.2,633.0C330.1,632.5 331.1,629.8 332.0,628.9C332.9,628.0 333.9,627.3 334.8,627.9C335.7,628.5 336.5,630.8 337.6,632.6C338.7,634.4 340.1,637.3 341.4,638.6C342.6,639.9 344.0,640.5 345.1,640.5C346.2,640.5 347.1,640.2 347.9,638.3C348.7,636.4 349.2,632.3 349.8,628.9C350.4,625.5 351.0,620.5 351.7,617.6C352.4,614.7 353.4,612.7 354.1,611.6C354.8,610.5 355.3,610.1 356.0,611.0C356.7,611.9 357.7,615.5 358.3,616.7C358.9,618.0 359.2,619.0 359.8,618.5C360.4,618.0 361.0,615.0 361.6,613.8C362.2,612.5 362.9,610.7 363.5,611.0C364.1,611.3 364.8,612.1 365.4,615.7C366.0,619.3 366.7,627.3 367.3,632.6C367.9,637.9 368.6,644.2 369.2,647.7C369.8,651.2 370.3,653.1 371.0,653.3C371.7,653.4 372.6,649.9 373.3,648.6C374.0,647.4 374.6,645.5 375.2,645.8C375.8,646.1 376.4,648.0 377.0,650.5C377.6,653.0 378.3,660.0 378.9,660.8C379.5,661.5 380.1,659.8 380.6,655.0C381.2,650.2 381.6,640.3 382.2,632.0C382.8,623.7 383.3,612.3 383.9,605.0C384.5,597.7 385.1,591.6 385.6,588.0C386.1,584.4 386.5,583.4 387.0,583.6C387.5,583.8 387.9,584.5 388.4,589.0C388.9,593.5 389.4,602.4 390.0,610.7C390.6,619.0 391.3,631.1 391.9,638.9C392.5,646.7 393.2,653.7 393.8,657.7C394.4,661.7 394.8,663.2 395.3,662.9C395.8,662.6 396.3,659.8 396.8,655.8C397.3,651.8 397.9,644.8 398.5,638.9C399.1,633.0 399.8,624.8 400.4,620.1C401.0,615.4 401.5,612.6 402.2,610.7C402.9,608.8 403.8,608.6 404.7,608.8C405.6,608.9 406.9,609.9 407.9,611.6C408.9,613.3 409.8,617.0 410.7,619.2C411.6,621.4 412.6,623.5 413.5,624.8C414.4,626.0 415.4,626.7 416.3,626.7C417.2,626.7 418.2,625.0 419.1,624.8C420.0,624.6 421.0,626.5 421.9,625.7C422.8,624.9 423.4,621.8 424.2,620.1C425.0,618.4 425.9,615.4 426.6,615.4C427.3,615.4 427.9,616.8 428.5,620.1C429.1,623.4 429.6,629.5 430.4,635.1C431.2,640.7 432.3,648.9 433.2,653.9C434.1,658.9 434.8,662.9 435.5,665.2C436.2,667.6 436.8,668.6 437.3,668.0C437.9,667.4 438.2,665.9 438.8,661.4C439.4,656.9 440.1,646.4 440.7,640.8C441.3,635.2 441.8,630.0 442.2,627.6C442.6,625.2 442.7,624.8 443.0,626.7C443.3,628.6 443.7,631.2 444.1,638.9C444.5,646.6 445.0,662.1 445.4,672.7C445.8,683.3 446.3,694.8 446.7,702.7C447.1,710.6 447.4,716.3 447.7,720.0C448.0,723.7 448.1,726.1 448.3,725.1C448.5,724.1 448.8,721.5 449.1,714.0C449.4,706.5 449.9,692.3 450.3,680.0C450.7,667.7 451.0,653.3 451.4,640.0C451.8,626.7 452.1,612.5 452.4,600.0C452.7,587.5 453.1,575.0 453.4,565.0C453.7,555.0 454.0,547.8 454.3,540.0C454.6,532.2 454.9,524.5 455.2,518.0C455.5,511.5 455.8,505.1 456.2,501.0C456.6,496.9 456.9,493.5 457.3,493.5C457.7,493.5 458.1,496.4 458.5,501.0C458.9,505.6 459.2,513.1 459.6,520.8C460.0,528.5 460.5,537.9 460.9,547.0C461.3,556.1 461.7,566.4 462.1,575.2C462.5,584.0 462.8,592.5 463.2,600.0C463.6,607.5 463.8,613.5 464.3,620.0C464.8,626.5 465.5,633.2 466.1,638.9C466.7,644.5 467.4,649.8 468.0,653.9C468.6,658.0 469.2,661.3 469.8,663.3C470.4,665.3 470.8,666.3 471.3,666.1C471.8,665.9 472.3,664.3 473.0,662.3C473.7,660.3 474.6,656.9 475.5,653.9C476.4,650.9 477.4,647.6 478.3,644.5C479.2,641.4 480.2,638.2 481.1,635.1C482.0,632.0 483.0,628.1 483.9,625.7C484.8,623.3 485.6,621.8 486.5,620.5C487.4,619.2 488.6,618.5 489.5,618.0C490.4,617.5 491.1,616.8 492.2,617.3C493.3,617.8 494.6,620.0 496.0,621.0C497.4,622.0 499.3,622.7 500.7,623.5C502.1,624.3 503.1,624.9 504.4,625.7C505.6,626.5 506.9,628.5 508.2,628.5C509.4,628.5 510.5,627.0 511.9,625.7C513.3,624.5 515.2,621.9 516.6,621.0C518.0,620.1 519.1,619.9 520.4,620.1C521.6,620.3 523.0,620.6 524.1,622.0C525.2,623.4 526.0,626.8 526.9,628.5C527.8,630.2 528.7,632.1 529.8,632.3C530.9,632.5 532.4,630.4 533.5,629.5C534.6,628.6 535.2,626.7 536.3,626.7C537.4,626.7 538.9,628.7 540.1,629.5C541.4,630.3 542.7,631.6 543.8,631.4C544.9,631.2 545.8,629.9 546.7,628.5C547.7,627.1 548.6,624.4 549.5,622.9C550.4,621.4 551.4,619.5 552.3,619.2C553.2,618.9 554.0,619.3 554.7,621.0C555.4,622.7 556.0,626.2 556.6,629.5C557.2,632.8 557.9,638.0 558.5,640.8C559.1,643.5 559.8,646.0 560.4,646.0C561.0,646.0 561.7,643.9 562.3,640.8C562.9,637.7 563.5,631.4 564.1,627.6C564.7,623.8 565.4,620.1 566.0,618.2C566.6,616.3 566.9,615.8 567.5,616.3C568.1,616.8 568.7,618.6 569.4,621.0C570.1,623.4 570.9,628.0 571.6,630.4C572.4,632.8 573.1,634.5 573.9,635.1C574.7,635.7 575.4,635.3 576.2,634.2C577.0,633.1 577.8,629.8 578.6,628.5C579.4,627.2 580.2,626.4 581.0,626.7C581.8,627.0 582.4,628.8 583.3,630.4C584.1,632.0 585.2,636.1 586.1,636.6C587.0,637.1 587.8,636.0 588.5,633.2C589.2,630.5 589.9,623.8 590.5,620.1C591.1,616.4 591.7,612.7 592.3,610.8C592.9,608.9 593.5,608.2 594.1,608.5C594.7,608.8 595.4,609.7 596.0,612.6C596.6,615.5 597.3,621.7 597.9,625.8C598.5,629.9 599.2,634.6 599.8,637.0C600.4,639.4 600.8,640.8 601.3,639.9C601.8,639.0 602.5,634.7 603.1,631.4C603.7,628.1 604.4,622.6 605.0,620.1C605.6,617.6 606.3,616.1 606.9,616.4C607.5,616.7 608.2,618.9 608.8,622.0C609.4,625.1 610.1,632.2 610.7,635.2C611.3,638.2 611.7,640.2 612.2,639.9C612.7,639.6 613.1,637.5 613.5,633.3C613.9,629.1 614.3,621.4 614.8,614.5C615.3,607.6 615.8,598.3 616.3,592.0C616.8,585.7 617.3,580.0 617.8,576.9C618.3,573.8 618.8,573.5 619.3,573.2C619.8,572.9 620.5,572.9 621.0,575.1C621.5,577.3 621.9,580.7 622.3,586.3C622.7,591.9 623.0,600.1 623.4,608.9C623.8,617.7 624.2,630.1 624.7,638.9C625.2,647.7 625.7,657.0 626.1,661.5C626.5,666.0 626.7,665.9 627.0,665.6C627.3,665.3 627.7,664.7 628.1,659.6C628.5,654.5 628.9,643.7 629.4,635.2C629.9,626.8 630.3,616.1 630.9,608.9C631.5,601.7 632.2,595.5 632.8,592.0C633.4,588.5 634.1,587.9 634.7,588.2C635.3,588.5 635.7,589.4 636.2,593.8C636.7,598.2 637.2,606.4 637.7,614.5C638.2,622.6 638.7,633.8 639.2,642.7C639.7,651.6 640.4,659.6 640.9,668.0C641.4,676.4 641.9,684.3 642.5,693.0C643.1,701.7 643.9,713.1 644.5,720.0C645.1,726.9 645.8,734.9 646.4,734.6C647.0,734.3 647.5,725.2 647.9,718.0C648.3,710.8 648.6,701.1 649.0,691.4C649.4,681.7 649.7,670.6 650.1,660.0C650.5,649.4 650.8,639.4 651.2,627.7C651.6,616.1 652.1,601.1 652.5,590.1C652.9,579.1 653.3,568.5 653.8,561.9C654.2,555.3 654.9,552.9 655.2,550.7C655.5,548.5 655.5,548.2 655.8,548.8C656.1,549.4 656.8,550.6 657.2,554.4C657.7,558.1 658.0,564.1 658.5,571.3C659.0,578.5 659.4,587.6 659.9,597.6C660.4,607.6 660.9,620.2 661.3,631.4C661.7,642.6 662.0,654.1 662.5,665.0C663.0,675.9 663.5,693.3 664.0,697.0C664.5,700.7 665.1,691.8 665.6,687.0C666.1,682.2 666.5,676.0 667.0,668.0C667.5,660.0 668.0,648.1 668.5,638.9C669.0,629.7 669.4,619.5 669.8,612.6C670.2,605.7 670.6,601.2 671.1,597.6C671.6,594.0 672.1,591.3 672.6,591.0C673.1,590.7 673.5,592.4 674.1,595.7C674.7,599.0 675.3,605.8 676.0,610.8C676.7,615.8 677.5,621.6 678.3,625.8C679.0,630.0 679.8,633.9 680.5,636.1C681.2,638.3 681.8,639.2 682.4,638.9C683.0,638.6 683.6,636.4 684.3,634.2C685.0,632.0 686.0,628.3 686.7,625.5C687.5,622.7 688.1,619.2 688.8,617.2C689.4,615.2 689.9,613.9 690.6,613.7C691.3,613.6 692.4,614.5 693.0,616.3C693.6,618.1 693.9,622.2 694.4,624.7C694.9,627.2 695.3,630.1 695.8,631.3C696.3,632.5 696.7,632.0 697.2,631.8C697.8,631.6 698.4,631.1 699.1,629.9C699.8,628.7 700.7,626.2 701.4,624.7C702.1,623.2 702.8,621.7 703.3,621.0C703.8,620.3 704.2,620.3 704.7,620.5C705.2,620.7 705.6,621.8 706.1,622.4C706.6,623.0 706.9,624.3 707.5,624.3C708.1,624.3 709.1,623.2 709.9,622.4C710.7,621.6 711.5,620.1 712.2,619.6C712.9,619.1 713.5,618.6 714.1,619.1C714.7,619.6 715.5,620.7 716.0,622.4C716.5,624.1 716.9,627.0 717.4,629.4C717.9,631.8 718.3,634.7 718.8,636.9C719.3,639.1 719.7,641.3 720.2,642.6C720.7,643.9 721.1,644.9 721.6,644.9C722.1,644.9 722.6,643.6 723.0,642.6C723.4,641.6 723.8,638.6 724.0,638.8C724.2,639.0 724.3,641.1 724.5,644.0C724.7,646.9 724.8,650.8 725.0,656.0C725.2,661.2 725.4,667.7 725.6,675.0C725.8,682.3 726.1,690.8 726.3,700.0C726.5,709.2 726.7,721.1 726.9,730.0C727.1,738.9 727.2,749.4 727.3,753.3" fill="none" stroke="#8c2e33" stroke-width="2.4" stroke-dasharray="6.2 2.9" stroke-linejoin="round"/>
<text class="an" x="204.7" y="546.2" textLength="45.9" lengthAdjust="spacingAndGlyphs">1384 nm</text>
<text class="an" x="123.7" y="717.3" textLength="45.9" lengthAdjust="spacingAndGlyphs">1208 nm</text>
<text class="an" x="220.8" y="733.8" textLength="46" lengthAdjust="spacingAndGlyphs">1422 nm</text>
<text class="an" x="354.9" y="699.4" textLength="25.9" lengthAdjust="spacingAndGlyphs">1724</text>
<text class="an" x="387.8" y="699.2" textLength="45" lengthAdjust="spacingAndGlyphs">1756 nm</text>
<text class="an" x="443.2" y="470.2" textLength="45.6" lengthAdjust="spacingAndGlyphs">1894 nm</text>
<text class="an" x="426.3" y="778.2" textLength="45.6" lengthAdjust="spacingAndGlyphs">1894 nm</text>
<text class="an" x="665.0" y="715.4" textLength="46" lengthAdjust="spacingAndGlyphs">2344 nm</text>
<text class="an" x="625.9" y="761.4" textLength="46" lengthAdjust="spacingAndGlyphs">2307 nm</text>
</svg></body></html>
